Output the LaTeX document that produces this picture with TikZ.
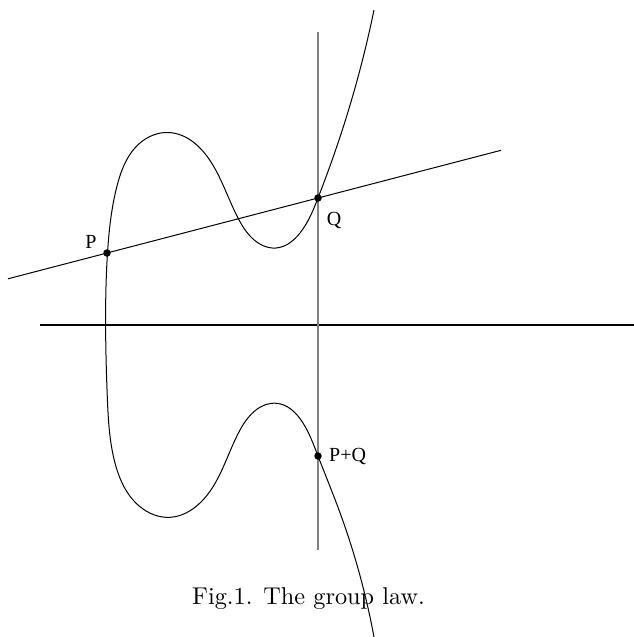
\documentclass[tikz,border=0pt]{standalone}
\usepackage{fontspec}
\usetikzlibrary{hobby}
\newfontfamily\labelfont{Liberation Serif}
\begin{document}
\begin{tikzpicture}[x=1pt,y=-1pt,
  curveline/.style={line width=1pt, line join=round},
  axisline/.style={line width=1.1pt},
  vline/.style={line width=1.5pt, gray},
  dot/.style={circle, fill, inner sep=0pt, minimum size=7.5pt},
  lab/.style={font=\labelfont\fontsize{20}{22}\selectfont, inner sep=0pt}]
\useasboundingbox (0,0) rectangle (634,637);
\coordinate (axL) at (40,325);
\coordinate (axR) at (634,325);
\coordinate (vT) at (318,32);
\coordinate (vB) at (318,550);
\coordinate (pP) at (107,253);
\coordinate (pQ) at (318,198);
\coordinate (pR) at (318,456);
\coordinate (sL) at (8,278.8);
\coordinate (sR) at (501,150.3);
\draw[axisline] (axL) -- (axR);
\draw[vline] (vT) -- (vB);
\draw[curveline] (sL) -- (sR);
\draw[curveline, use Hobby shortcut]
 (374,10) .. (340,137) .. (318,198) .. (300,233) .. (276,248)
 .. (252,238) .. (238,218) .. (211,162) .. (168,132.5) .. (140,143)
 .. (117,186) .. (107.5,253) .. (105.6,325) .. (107.3,397) .. (115,463)
 .. (140,506.7) .. (170,517.3) .. (200,503) .. (240,430) .. (276.7,403.3)
 .. (303,423) .. (318,456) .. (339,510) .. (374,637);
\node[dot] (P) at (pP) {};
\node[dot] (Q) at (pQ) {};
\node[dot] (R) at (pR) {};
\node[lab] (lP) at (91,242) {P};
\node[lab] (lQ) at (334,220) {Q};
\node[lab, anchor=west] (lR) at (329,456) {P+Q};
\node[scale=2.43, font=\fontsize{10}{12}\selectfont, inner sep=0pt] (cap) at (308.5,599) {Fig.1. The group law.};
\end{tikzpicture}
\end{document}
